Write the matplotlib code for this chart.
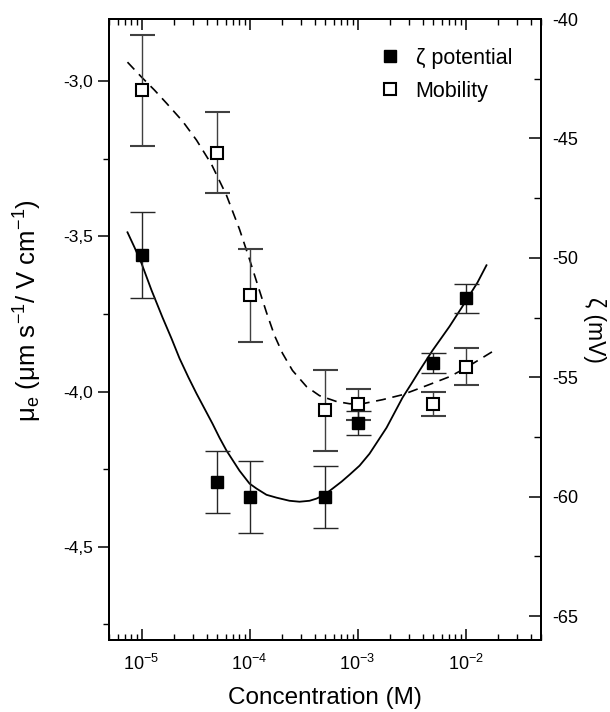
import matplotlib
matplotlib.use("Agg")
import matplotlib.pyplot as plt
from matplotlib.lines import Line2D
from matplotlib.ticker import MultipleLocator, FuncFormatter, LogLocator
import numpy as np

plt.rcParams['font.family'] = ['Liberation Sans', 'DejaVu Sans']
plt.rcParams['mathtext.fontset'] = 'custom'
plt.rcParams['mathtext.rm'] = 'Liberation Sans'
plt.rcParams['mathtext.it'] = 'Liberation Sans:italic'
plt.rcParams['mathtext.bf'] = 'Liberation Sans:bold'

# measured points
conc = [1e-5, 5e-5, 1e-4, 5e-4, 1e-3, 5e-3, 1e-2]
zeta = [-49.9, -59.4, -60.0, -60.0, -56.9, -54.4, -51.7]           # mV
zeta_err = [1.8, 1.3, 1.5, 1.3, 0.5, 0.4, 0.6]
mobility = [-3.03, -3.23, -3.69, -4.06, -4.04, -4.04, -3.92]        # um s-1 / V cm-1
mobility_err = [0.18, 0.13, 0.15, 0.13, 0.05, 0.04, 0.06]

# fitted curves (log10 of concentration)
zeta_fit_logc = [-5.130, -5.065, -5.0, -4.907, -4.806, -4.722, -4.648, -4.565,
                 -4.491, -4.417, -4.343, -4.278, -4.213, -4.093, -4.0, -3.935,
                 -3.843, -3.750, -3.630, -3.537, -3.444, -3.380, -3.306, -3.231,
                 -3.148, -3.074, -2.981, -2.889, -2.815, -2.731, -2.657, -2.583,
                 -2.500, -2.426, -2.306, -2.148, -2.028, -1.889, -1.806]
zeta_fit = [-48.93, -49.56, -50.23, -51.36, -52.49, -53.38, -54.21, -55.01,
            -55.68, -56.31, -56.94, -57.53, -58.07, -58.91, -59.45, -59.66,
            -59.92, -60.04, -60.17, -60.21, -60.17, -60.08, -59.92, -59.66,
            -59.37, -59.08, -58.70, -58.20, -57.69, -57.11, -56.48, -55.85,
            -55.26, -54.72, -53.88, -52.87, -52.03, -51.03, -50.31]
mob_fit_logc = [-5.130, -5.0, -4.880, -4.769, -4.620, -4.491, -4.352, -4.213,
                -4.093, -4.0, -3.926, -3.843, -3.769, -3.694, -3.602, -3.472,
                -3.352, -3.194, -3.074, -2.954, -2.769, -2.583, -2.333, -2.148,
                -2.009, -1.750]
mob_fit = [-2.939, -2.987, -3.029, -3.071, -3.129, -3.190, -3.268, -3.368,
           -3.477, -3.574, -3.655, -3.745, -3.819, -3.877, -3.932, -3.984,
           -4.013, -4.032, -4.039, -4.039, -4.026, -4.010, -3.977, -3.952,
           -3.926, -3.871]

fig = plt.figure(figsize=(6.1, 7.12), dpi=100)
ax = fig.add_axes([0.1787, 0.1011, 0.7082, 0.8722])
ax2 = ax.twinx()

# mobility on left axis
ax.plot(10 ** np.array(mob_fit_logc), mob_fit, color='black', lw=1.2,
        linestyle=(0, (6, 4)))
ax.errorbar(conc, mobility, yerr=mobility_err, fmt='s', ms=8, mfc='white',
            mec='black', mew=1.5, ecolor='0.25', elinewidth=1.0, capsize=9,
            capthick=1.0, zorder=3)

# zeta on right axis
ax2.plot(10 ** np.array(zeta_fit_logc), zeta_fit, color='black', lw=1.3)
ax2.errorbar(conc, zeta, yerr=zeta_err, fmt='s', ms=8, mfc='black',
             mec='black', mew=1.0, ecolor='0.15', elinewidth=1.0, capsize=9,
             capthick=1.0, zorder=3)

ax.set_xscale('log')
ax.set_xlim(5e-6, 5e-2)
ax.set_ylim(-4.8, -2.8)
ax2.set_ylim(-66, -40)

ax.xaxis.set_minor_locator(LogLocator(base=10, subs=np.arange(2, 10), numticks=10))
ax.set_xticks([1e-5, 1e-4, 1e-3, 1e-2])
ax.set_xticklabels([r'$10^{-5}$', r'$10^{-4}$', r'$10^{-3}$', r'$10^{-2}$'])

ax.yaxis.set_major_locator(MultipleLocator(0.5))
ax.yaxis.set_minor_locator(MultipleLocator(0.25))
ax.yaxis.set_major_formatter(FuncFormatter(lambda v, p: ('%.1f' % v).replace('.', ',')))
ax2.yaxis.set_major_locator(MultipleLocator(5))
ax2.yaxis.set_minor_locator(MultipleLocator(2.5))
ax2.yaxis.set_major_formatter(FuncFormatter(lambda v, p: '%d' % v))

ax.tick_params(axis='x', which='both', direction='in', top=True, bottom=True,
               labelsize=13, pad=10)
ax.tick_params(axis='x', which='major', length=8, width=1.1)
ax.tick_params(axis='x', which='minor', length=4.5, width=1.0)
ax.tick_params(axis='y', which='both', direction='out', left=True, right=False,
               labelsize=12.5)
ax.tick_params(axis='y', which='major', length=8, width=1.1)
ax.tick_params(axis='y', which='minor', length=4.5, width=1.0)
ax2.tick_params(axis='y', which='both', direction='in', labelsize=13, pad=8)
ax2.tick_params(axis='y', which='major', length=9, width=1.1)
ax2.tick_params(axis='y', which='minor', length=5, width=1.0)

for sp in ax2.spines.values():
    sp.set_linewidth(1.4)
for sp in ax.spines.values():
    sp.set_linewidth(1.4)

ax.set_xlabel('Concentration (M)', fontsize=17.5, labelpad=9)
ax.set_ylabel(r'μ$_\mathrm{e}$ (μm s$^{-1}$/ V cm$^{-1}$)', fontsize=18.5)
ax.yaxis.set_label_coords(-0.15, 0.53)
ax2.set_ylabel('ζ (mV)', fontsize=16.5, rotation=-90, labelpad=20)

handles = [
    Line2D([], [], marker='s', linestyle='none', ms=8, mfc='black', mec='black'),
    Line2D([], [], marker='s', linestyle='none', ms=8, mfc='white', mec='black', mew=1.5),
]
ax2.legend(handles, ['ζ potential', 'Mobility'], loc='upper left',
           bbox_to_anchor=(0.575, 0.985), frameon=False, fontsize=15.5,
           handletextpad=0.6, labelspacing=0.55, handlelength=1.2)

fig.savefig('out.png', dpi=100)
